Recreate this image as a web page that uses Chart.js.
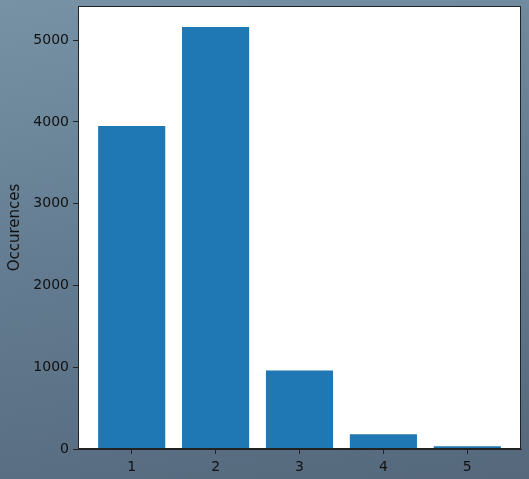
<!DOCTYPE html>
<html>
<head>
<meta charset="utf-8">
<script src="https://cdn.jsdelivr.net/npm/chart.js@4"></script>
<style>
  html, body { margin: 0; padding: 0; }
  body {
    width: 529px; height: 479px; overflow: hidden;
    background: linear-gradient(170deg, #7792a5 0%, #647d92 45%, #55687c 100%);
  }
  #wrap { width: 529px; height: 479px; }
</style>
</head>
<body>
<div id="wrap"><canvas id="myChart"></canvas></div>
<script>
// bins and counts
var categories = [1, 2, 3, 4, 5];
var counts = [3950, 5160, 960, 180, 35];
var yTicks = [0, 1000, 2000, 3000, 4000, 5000];

var points = categories.map(function (c, i) { return { x: c, y: counts[i] }; });

// white plot area + frame on top/right like matplotlib
var plotFrame = {
  id: "plotFrame",
  beforeDraw: function (chart) {
    var a = chart.chartArea, ctx = chart.ctx;
    ctx.save();
    ctx.fillStyle = "#ffffff";
    ctx.fillRect(a.left, a.top, a.right - a.left, a.bottom - a.top);
    ctx.restore();
  },
  afterDraw: function (chart) {
    var a = chart.chartArea, ctx = chart.ctx;
    ctx.save();
    ctx.strokeStyle = "#222222";
    ctx.lineWidth = 1;
    ctx.strokeRect(a.left + 0.5, a.top + 0.5, a.right - a.left - 1, a.bottom - a.top - 1);
    ctx.restore();
  }
};

new Chart("myChart", {
  type: "bar",
  data: {
    datasets: [{
      data: points,
      backgroundColor: "#1f77b4",
      borderWidth: 0,
      categoryPercentage: 1.0,
      barPercentage: 0.8
    }]
  },
  options: {
    responsive: true,
    maintainAspectRatio: false,
    animation: false,
    layout: { padding: { left: 0, top: 6, right: 8, bottom: 0 } },
    plugins: { legend: { display: false }, tooltip: { enabled: false } },
    scales: {
      x: {
        type: "linear",
        offset: false,
        min: 0.36,
        max: 5.64,
        afterBuildTicks: function (scale) {
          scale.ticks = categories.map(function (c) { return { value: c }; });
        },
        afterFit: function (scale) {
          scale.height = 30;
          scale.paddingLeft = 0;
          scale.paddingRight = 0;
        },
        grid: { drawOnChartArea: false, offset: false, tickLength: 5, color: "#222222" },
        border: { color: "#222222", width: 1 },
        ticks: {
          color: "#111111",
          padding: 5,
          font: { family: "DejaVu Sans", size: 14 },
          callback: function (v) { return String(v); }
        }
      },
      y: {
        min: 0,
        max: 5418,
        afterBuildTicks: function (scale) {
          scale.ticks = yTicks.map(function (v) { return { value: v }; });
        },
        afterFit: function (scale) {
          scale.width = 78;
          scale.paddingTop = 0;
          scale.paddingBottom = 0;
        },
        grid: { drawOnChartArea: false, tickLength: 5, color: "#222222" },
        border: { color: "#222222", width: 1 },
        title: {
          display: true,
          text: "Occurences",
          color: "#111111",
          padding: { top: 6, bottom: 0 },
          font: { family: "DejaVu Sans", size: 15 }
        },
        ticks: {
          color: "#111111",
          padding: 4,
          font: { family: "DejaVu Sans", size: 14 },
          callback: function (v) { return String(v); }
        }
      }
    }
  },
  plugins: [plotFrame]
});
</script>
</body>
</html>
